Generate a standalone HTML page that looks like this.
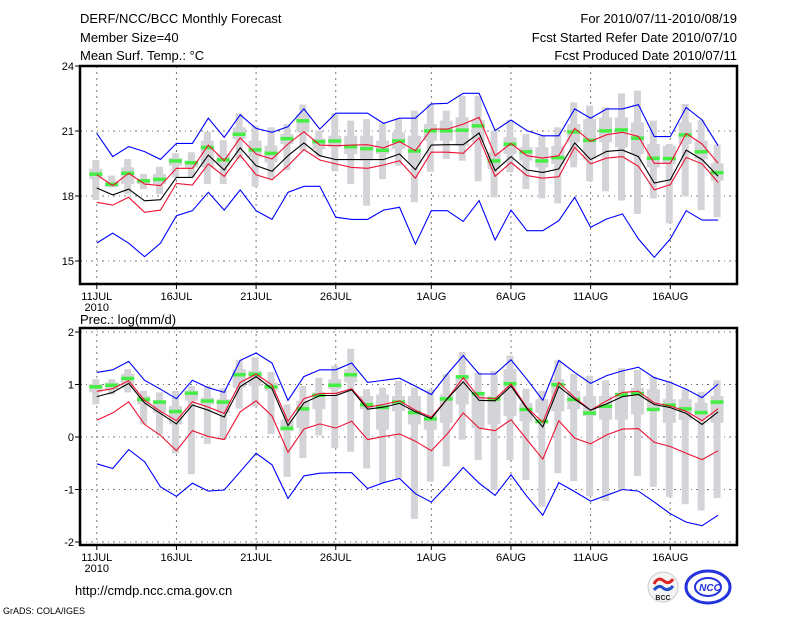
<!DOCTYPE html>
<html><head><meta charset="utf-8">
<style>
body{margin:0;background:#fff;}
svg{display:block;font-family:"Liberation Sans",sans-serif;}
</style></head>
<body>
<svg id="chart" width="800" height="618" viewBox="0 0 800 618" xmlns="http://www.w3.org/2000/svg">
<g font-size="13" fill="#000">
<text x="80" y="23">DERF/NCC/BCC Monthly Forecast</text>
<text x="80" y="42">Member Size=40</text>
<text x="80" y="60">Mean Surf. Temp.: °C</text>
</g>
<g font-size="13" fill="#000" text-anchor="end">
<text x="737" y="23">For 2010/07/11-2010/08/19</text>
<text x="737" y="42">Fcst Started Refer Date 2010/07/10</text>
<text x="737" y="60">Fcst Produced Date 2010/07/11</text>
</g>
<g id="top"></g>
<text x="80" y="324" font-size="13">Prec.: log(mm/d)</text>
<g id="bot"></g>
<text x="75" y="595" font-size="13">http://cmdp.ncc.cma.gov.cn</text>
<text x="3" y="614" font-size="9">GrADS: COLA/IGES</text>
<g>
<circle cx="663" cy="587" r="15" fill="#f4f4f4" stroke="#ccc"/>
<path d="M654 584 q4 -8 10 -3 q5 4 9 -2" fill="none" stroke="#d22" stroke-width="3"/>
<path d="M654 590 q5 -6 9 -2 q5 4 10 -2" fill="none" stroke="#2250c8" stroke-width="3"/>
<text x="663" y="600" font-size="7" text-anchor="middle" font-weight="bold" fill="#222">BCC</text>
</g>
<g>
<ellipse cx="708" cy="587" rx="22" ry="16" fill="#fff" stroke="#2233dd" stroke-width="3"/>
<ellipse cx="708" cy="587" rx="13" ry="9" fill="none" stroke="#2233dd" stroke-width="2"/>
<text x="710" y="591" font-size="10" font-weight="bold" font-style="italic" text-anchor="middle" fill="#2233dd">NCC</text>
</g>
</svg>
<script>
// ---- temperature data (°C) ----
const days = ["11JUL","16JUL","21JUL","26JUL","1AUG","6AUG","11AUG","16AUG"];
const tickDays = [0,5,10,15,21,26,31,36];
const tTicks = [24,21,18,15];
const tMax = [20.89,19.82,20.28,20.05,19.69,20.43,20.43,21.59,20.71,21.75,21.12,20.94,21.2,22.02,21.09,21.82,21.82,21.82,21.35,21.59,21.59,22.25,22.28,22.74,22.74,21.02,21.51,21.02,20.78,20.78,22.02,21.59,22.02,22.02,22.22,20.74,20.74,22.09,21.51,20.32];
const tMin = [15.83,16.29,15.82,15.2,15.82,17.09,17.32,18.17,17.35,18.28,17.32,16.92,18.17,18.45,18.45,17.02,16.92,16.92,17.35,17.48,15.78,17.32,17.32,16.83,17.79,15.97,17.35,16.4,16.4,16.86,17.94,16.55,16.94,17.17,16.02,15.17,16.02,17.32,16.89,16.89];
const tMean = [18.37,18.05,18.32,17.78,17.83,18.86,18.86,19.89,19.2,20.22,19.4,19.14,19.86,20.45,19.86,19.68,19.68,19.68,19.68,19.94,19.22,20.35,20.37,20.37,20.91,19.17,19.82,19.2,19.09,19.25,20.45,19.68,20.06,20.12,19.82,18.6,18.75,20.12,19.68,18.91];
const tUp = [18.98,18.48,19.05,18.55,18.48,19.28,19.28,20.35,19.63,20.68,19.94,19.71,20.4,20.97,20.35,20.32,20.35,20.37,20.22,20.51,20.09,21.09,21.09,21.32,21.63,19.86,20.43,19.86,19.75,19.86,21.12,20.52,20.83,20.94,20.75,19.51,19.51,20.89,20.4,19.51];
const tLo = [17.71,17.58,17.94,17.25,17.35,18.58,18.51,19.48,18.91,19.89,18.98,18.75,19.4,20.14,19.66,19.48,19.32,19.28,19.43,19.63,18.82,20.02,20.02,19.97,20.68,18.91,19.55,18.94,18.82,18.89,20.25,19.48,19.75,19.82,19.37,18.28,18.52,19.78,19.48,18.63];
const tGreen = [19.02,18.55,19.06,18.71,18.78,19.63,19.55,20.25,19.68,20.86,20.14,19.98,20.66,21.48,20.52,20.55,20.29,20.2,20.12,20.55,20.09,21.02,21.02,21.05,21.25,19.63,20.4,20.05,19.63,19.78,20.97,20.58,21.02,21.06,20.68,19.75,19.74,20.83,20.05,19.09];
const tWT = [19.66,18.94,19.71,19.02,19.35,19.97,20.02,20.97,20.58,21.82,21.25,21.17,21.32,22.22,21.02,21.82,21.48,21.55,21.35,21.55,21.94,22.25,21.94,22.63,22.63,21.02,21.51,20.86,20.78,21.17,22.32,22.17,22.09,22.74,22.86,21.48,20.4,22.25,21.51,20.37];
const tBT = [19.25,18.71,19.32,18.78,19.02,19.75,19.63,20.55,19.94,21.17,20.55,20.32,20.86,21.78,20.66,20.78,20.78,20.78,20.55,20.94,20.78,21.32,21.48,21.63,21.51,20.02,20.71,20.25,20.25,20.32,21.32,21.55,21.63,21.63,21.4,20.4,20.32,21.4,20.55,19.51];
const tBB = [18.78,18.4,18.55,18.55,18.55,19.4,19.32,19.32,19.4,20.63,19.79,19.55,20.4,20.94,20.17,20.25,19.94,19.63,19.94,20.17,19.48,20.55,20.55,20.32,20.48,19.25,19.94,19.63,19.32,19.48,20.48,19.71,20.48,20.25,19.94,19.32,19.48,20.4,19.71,18.71];
const tWB = [17.82,18.4,18.09,18.32,18.09,18.86,18.86,18.55,18.55,19.71,18.43,18.78,19.2,20.09,19.82,19.14,18.55,17.55,18.78,19.4,17.71,19.12,19.71,19.63,18.68,17.94,19.09,18.32,17.89,17.66,19.32,18.68,18.22,17.79,17.17,17.89,16.74,17.98,17.35,17.02];
// ---- precipitation data log(mm/d) ----
const pTicks = [2,1,0,-1,-2];
const pMax = [1.23,1.28,1.44,1.08,0.91,0.73,1.08,0.94,0.85,1.46,1.60,1.41,0.70,1.15,1.28,1.28,1.41,1.04,1.08,1.12,0.97,0.81,1.20,1.55,1.20,1.20,1.47,1.10,0.70,1.46,1.23,1.02,1.17,1.26,1.33,1.13,1.04,0.91,0.75,1.01];
const pMin = [-0.51,-0.60,-0.24,-0.47,-0.95,-1.13,-0.88,-1.03,-1.01,-0.66,-0.31,-0.53,-1.17,-0.74,-0.69,-0.68,-0.68,-0.98,-0.87,-0.79,-1.08,-1.24,-0.92,-0.58,-0.88,-1.11,-0.72,-1.13,-1.49,-0.87,-1.04,-1.22,-1.11,-1.00,-1.03,-1.24,-1.46,-1.62,-1.69,-1.49];
const pMean = [0.77,0.85,1.02,0.65,0.45,0.25,0.61,0.51,0.38,0.96,1.15,0.92,0.22,0.65,0.79,0.79,0.90,0.53,0.57,0.64,0.48,0.35,0.73,1.05,0.70,0.69,0.97,0.54,0.19,0.96,0.72,0.51,0.63,0.77,0.81,0.62,0.56,0.45,0.24,0.48];
const pUp = [0.87,0.92,1.07,0.70,0.49,0.31,0.67,0.57,0.45,1.04,1.20,0.99,0.30,0.73,0.83,0.83,0.92,0.57,0.62,0.69,0.51,0.38,0.73,1.13,0.75,0.73,1.01,0.56,0.28,1.04,0.75,0.51,0.69,0.85,0.87,0.65,0.59,0.49,0.31,0.54];
const pLo = [0.32,0.46,0.67,0.24,0.03,-0.26,0.12,0.01,-0.05,0.48,0.69,0.40,-0.29,0.15,0.25,0.17,0.30,-0.05,0.01,0.06,-0.08,-0.26,0.06,0.46,0.17,0.12,0.33,-0.05,-0.42,0.31,-0.02,-0.13,0.04,0.15,0.16,-0.10,-0.18,-0.31,-0.43,-0.26];
const pGreen = [0.96,0.99,1.12,0.72,0.67,0.49,0.84,0.69,0.67,1.19,1.20,0.96,0.17,0.54,0.80,0.99,1.19,0.62,0.57,0.67,0.47,0.35,0.73,1.15,0.83,0.73,1.02,0.53,0.30,1.00,0.72,0.46,0.59,0.81,0.83,0.53,0.61,0.54,0.47,0.67];
const pWT = [1.10,1.10,1.29,0.88,0.85,0.88,0.97,0.97,0.93,1.47,1.52,1.24,0.62,0.97,1.13,1.36,1.68,0.91,0.94,1.07,0.94,0.91,1.20,1.62,1.23,1.26,1.55,0.92,0.88,1.46,1.20,1.17,1.08,1.31,1.28,1.15,1.07,0.91,0.86,1.08];
const pBT = [1.01,1.04,1.20,0.78,0.69,0.59,0.88,0.75,0.72,1.29,1.26,1.04,0.33,0.69,0.85,1.10,1.29,0.78,0.81,0.78,0.78,0.43,0.81,1.13,0.85,0.78,1.29,0.65,0.72,1.10,0.88,0.78,0.78,0.85,0.94,0.91,0.72,0.72,0.65,0.78];
const pBB = [0.85,0.91,0.94,0.62,0.46,0.24,0.69,0.62,0.46,0.94,0.97,0.88,0.11,0.17,0.53,0.91,1.04,0.53,0.14,0.49,0.24,0.14,0.27,0.62,0.17,0.24,0.40,0.30,0.46,0.49,0.53,0.40,0.33,0.33,0.43,0.56,0.27,0.33,0.38,0.27];
const pWB = [0.62,0.81,0.85,0.24,0.04,-0.31,-0.71,-0.13,-0.05,0.54,0.58,0.06,-0.76,-0.40,0.03,-0.21,-0.28,-0.60,-0.87,-0.79,-1.56,-0.85,-0.56,-0.05,-0.44,-1.01,-0.44,-0.82,-1.33,-0.69,-0.84,-1.13,-1.22,-1.01,-0.74,-0.95,-1.14,-1.28,-1.40,-1.16];

const NS = "http://www.w3.org/2000/svg";
const X0 = 96.8, DX = 15.93, LEFT = 80, RIGHT = 737;
function xs(i){ return X0 + DX*i; }
function mk(parent, tag, attrs){
  const e = document.createElementNS(NS, tag);
  for (const k in attrs) e.setAttribute(k, attrs[k]);
  parent.appendChild(e);
  return e;
}
function panel(g, top, bot, vTop, vBot, ticks, d, showLabels){
  const ys = v => top + (vTop - v) * (bot - top) / (vTop - vBot);
  // grid
  ticks.forEach(t => {
    const y = ys(t);
    const gl = mk(g, "line", {x1:LEFT, x2:RIGHT, y1:y, y2:y, stroke:"#777", "stroke-width":1, "stroke-dasharray":"2,4,1,4"});
    
    
    const tk = mk(g, "line", {x1:LEFT-5, x2:LEFT, y1:y, y2:y, stroke:"#000"});
    
    
    const tl = mk(g, "text", {x:LEFT-6, y:y+4, "font-size":11, "text-anchor":"end"});
    tl.textContent = t;
    
    
  });
  tickDays.forEach((dd, k) => {
    const x = xs(dd);
    const gl = mk(g, "line", {x1:x, x2:x, y1:top, y2:bot, stroke:"#777", "stroke-dasharray":"2,4"});
    
    
    const tk = mk(g, "line", {x1:x, x2:x, y1:bot, y2:bot+5, stroke:"#000"});
    
    
    const tl = mk(g, "text", {x:x, y:bot+16, "font-size":11, "text-anchor":"middle"});
    tl.textContent = days[k];
    
    
  });
  const yr = mk(g, "text", {x:xs(0), y:bot+27, "font-size":11, "text-anchor":"middle"});
  yr.textContent = "2010";
  
  
  // boxes
  for (let i = 0; i < d.wt.length; i++){
    const x = xs(i) - 1;
    const w = mk(g, "rect", {x:x-3.5, width:7, y:ys(d.wt[i]), height:Math.max(1, ys(d.wb[i]) - ys(d.wt[i])), fill:"#d4d4d8"});
    
    
    const b = mk(g, "rect", {x:x-6.5, width:13, y:ys(d.bt[i]), height:Math.max(1, ys(d.bb[i]) - ys(d.bt[i])), fill:"#d4d4d8"});
    
    
    const gm = mk(g, "rect", {x:x-6.5, width:13, y:ys(d.green[i]) - 1.5, height:3.5, fill:"#44ee44"});
    
    
  }
  const line = (arr, col, name) => {
    const p = mk(g, "polyline", {points: arr.map((v,i) => xs(i).toFixed(1)+","+ys(v).toFixed(1)).join(" "), fill:"none", stroke:col, "stroke-width":1.1});
    
    
  };
  line(d.max, "#0000ff", "max-line");
  line(d.min, "#0000ff", "min-line");
  line(d.up, "#ee1133", "upper-line");
  line(d.lo, "#ee1133", "lower-line");
  line(d.mean, "#000000", "mean-line");
  const fr = mk(g, "rect", {x:LEFT, y:top, width:RIGHT-LEFT, height:bot-top, fill:"none", stroke:"#000", "stroke-width":2.5});
  
  
}
panel(document.getElementById("top"), 66, 284, 24, 24 - (284-66)/21.667, tTicks,
  {max:tMax, min:tMin, mean:tMean, up:tUp, lo:tLo, green:tGreen, wt:tWT, bt:tBT, bb:tBB, wb:tWB}, true);
panel(document.getElementById("bot"), 328, 545, 2 + (332-328)/52.5, 2 - (545-332)/52.5, pTicks,
  {max:pMax, min:pMin, mean:pMean, up:pUp, lo:pLo, green:pGreen, wt:pWT, bt:pBT, bb:pBB, wb:pWB}, true);
</script>
</body></html>
